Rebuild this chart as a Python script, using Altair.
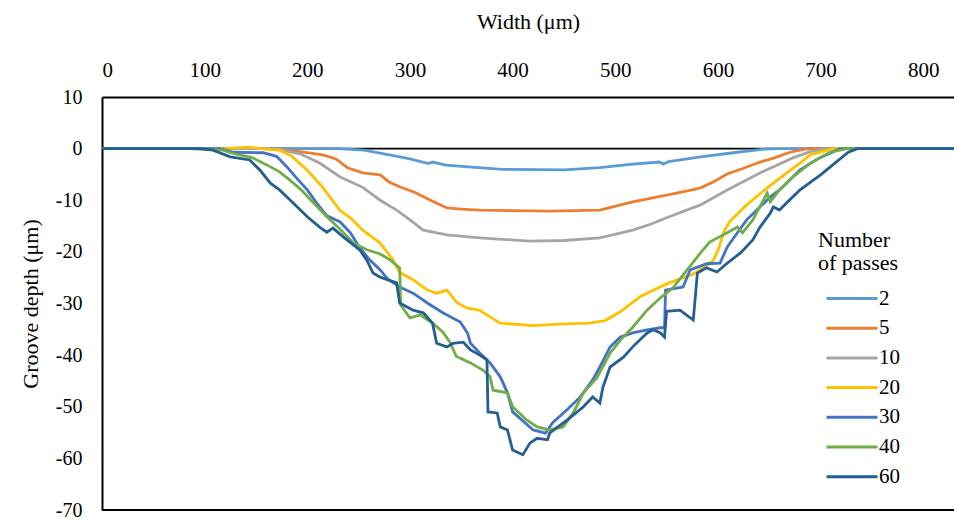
import altair as alt
import pandas as pd

# ---- data (width in µm, groove depth in µm) ----
passes = ["2", "5", "10", "20", "30", "40", "60"]
colors = ["#5B9BD5", "#ED7D31", "#A5A5A5", "#FFC000", "#4472C4", "#70AD47", "#255E91"]

p2_x = [0, 230, 255, 280, 300, 318, 322, 335, 360, 390, 450, 485, 517, 543, 547, 552, 583, 615, 645, 660, 830]
p2_y = [0, 0, -0.3, -1.2, -2.0, -2.9, -2.6, -3.2, -3.6, -4.0, -4.1, -3.7, -3.0, -2.6, -3.0, -2.5, -1.6, -0.8, -0.1, 0, 0]

p5_x = [0, 155, 175, 193, 215, 228, 239, 254, 271, 280, 290, 305, 320, 336, 350, 368, 400, 436, 485, 517, 550, 575,
        583, 595, 609, 625, 641, 655, 670, 685, 695, 830]
p5_y = [0, 0, -0.2, -0.6, -1.2, -2.0, -3.7, -4.7, -5.1, -6.5, -7.4, -8.5, -10.0, -11.5, -11.7, -11.9, -12.0, -12.1,
        -11.9, -10.3, -9.0, -8.0, -7.6, -6.5, -4.9, -3.8, -2.6, -1.8, -0.7, -0.1, 0, 0]

p10_x = [0, 160, 175, 193, 212, 232, 254, 271, 287, 300, 313, 336, 368, 417, 450, 485, 517, 535, 550, 583, 609, 641,
         673, 690, 706, 830]
p10_y = [0, 0, -0.3, -1.0, -2.8, -5.5, -7.5, -10.0, -11.9, -13.8, -15.8, -16.7, -17.3, -17.9, -17.8, -17.3, -15.8,
         -14.6, -13.4, -10.9, -8.0, -4.7, -1.8, -0.6, 0, 0]

p20_x = [0, 120, 135, 144, 155, 173, 185, 200, 215, 232, 242, 254, 271, 283, 290, 303, 317, 326, 336, 346, 356, 368,
         378, 388, 420, 446, 475, 490, 505, 524, 550, 576, 595, 600, 606, 612, 628, 648, 667, 680, 690, 712, 830]
p20_y = [0, 0, 0.2, 0.3, 0, -0.3, -1.5, -4.2, -7.5, -12.0, -13.4, -15.8, -18.3, -21.4, -24.0, -25.4, -27.4, -28.0,
         -27.4, -29.9, -30.9, -31.3, -32.6, -33.8, -34.3, -34.0, -33.8, -33.3, -31.6, -28.7, -26.2, -24.3, -21.8,
         -19.8, -16.0, -14.0, -10.9, -7.6, -4.7, -2.8, -1.2, 0, 0]

p30_x = [0, 115, 128, 157, 170, 180, 190, 200, 209, 219, 232, 242, 251, 261, 271, 278, 290, 303, 317, 332, 349, 356,
         359, 368, 378, 388, 395, 400, 407, 420, 432, 439, 453, 466, 478, 485, 495, 505, 517, 531, 544, 548, 549, 566,
         573, 589, 602, 609, 619, 628, 641, 651, 660, 673, 680, 699, 719, 830]
p30_y = [0, 0, -0.7, -0.8, -1.5, -3.5, -5.8, -8.0, -10.5, -13.0, -14.2, -16.3, -19.2, -21.6, -23.5, -25.2, -26.8,
         -28.0, -29.9, -31.8, -33.6, -35.7, -37.7, -39.6, -41.5, -44.2, -47.3, -51.0, -52.2, -54.5, -55.1, -53.1,
         -50.6, -48.1, -44.8, -42.3, -38.4, -36.5, -35.7, -35.1, -34.7, -34.7, -27.4, -26.8, -23.5, -22.3, -22.2,
         -19.1, -16.3, -13.8, -11.3, -9.4, -8.0, -5.5, -4.1, -1.8, 0, 0]

p40_x = [0, 83, 118, 125, 147, 161, 173, 183, 193, 206, 219, 232, 245, 258, 271, 281, 290, 291, 300, 310, 322, 332,
         339, 345, 359, 371, 378, 381, 395, 400, 414, 424, 436, 449, 459, 469, 482, 495, 505, 517, 531, 544, 556, 570,
         583, 592, 609, 619, 624, 634, 648, 651, 660, 673, 690, 709, 726, 830]
p40_y = [0, 0, -0.3, -0.8, -1.8, -3.2, -4.5, -6.1, -7.8, -10.5, -13.2, -15.6, -18.3, -19.6, -20.4, -21.6, -23.1,
         -30.3, -32.8, -32.2, -33.8, -35.5, -37.5, -40.2, -41.5, -42.9, -44.2, -46.8, -47.3, -50.0, -52.6, -53.9,
         -54.5, -53.9, -51.2, -47.3, -44.4, -39.6, -37.1, -34.6, -31.3, -28.9, -27.0, -23.5, -20.2, -18.1, -16.3,
         -15.2, -16.3, -13.8, -8.6, -10.3, -8.0, -5.5, -2.8, -0.7, 0, 0]

p60_x = [0, 95, 108, 125, 144, 154, 164, 173, 186, 200, 212, 219, 225, 235, 251, 258, 264, 271, 278, 287, 290, 303,
         313, 322, 326, 336, 342, 352, 359, 368, 375, 376, 385, 388, 395, 400, 410, 417, 424, 434, 436, 453, 469, 478,
         485, 488, 495, 508, 517, 531, 537, 544, 548, 550, 563, 576, 580, 589, 599, 609, 622, 634, 641, 651, 654, 660,
         667, 680, 700, 714, 727, 736, 830]
p60_y = [0, 0, -0.3, -1.6, -2.2, -4.2, -6.7, -8.0, -10.5, -13.2, -15.2, -16.2, -15.4, -17.1, -19.6, -21.6, -24.1,
         -24.9, -25.4, -26.0, -29.9, -31.3, -31.8, -33.8, -37.7, -38.4, -37.7, -37.5, -39.0, -40.0, -40.9, -51.0,
         -51.2, -53.9, -54.5, -58.4, -59.3, -57.0, -56.1, -56.4, -55.1, -52.6, -50.0, -48.1, -49.3, -46.2, -42.3,
         -40.4, -38.4, -35.7, -35.1, -35.7, -36.5, -31.5, -31.3, -33.2, -24.1, -23.1, -23.9, -22.2, -20.2, -17.7,
         -15.2, -12.5, -11.3, -11.9, -10.5, -8.0, -5.1, -2.8, -0.7, 0, 0]

x_ticks = [0, 100, 200, 300, 400, 500, 600, 700, 800]
y_ticks = [-70, -60, -50, -40, -30, -20, -10, 0, 10]
frame_lines = [0, -70]

series = {
    "2": (p2_x, p2_y), "5": (p5_x, p5_y), "10": (p10_x, p10_y), "20": (p20_x, p20_y),
    "30": (p30_x, p30_y), "40": (p40_x, p40_y), "60": (p60_x, p60_y),
}
rows = []
for k, name in enumerate(passes):
    xs, ys = series[name]
    for i, (xv, yv) in enumerate(zip(xs, ys)):
        rows.append({"passes": name, "k": k, "i": i, "width": xv, "depth": yv})
df = pd.DataFrame(rows)

FONT = "Liberation Serif"

xscale = alt.Scale(domain=[0, 830], nice=False, zero=False)
yscale = alt.Scale(domain=[-70, 10], nice=False)

x_axis = alt.Axis(orient="top", title="Width (μm)", values=x_ticks, ticks=False, grid=False,
                  domainColor="black", domainWidth=2, labelPadding=17, titlePadding=26,
                  labelFont=FONT, titleFont=FONT, labelFontSize=21, titleFontSize=22)
y_axis = alt.Axis(title="Groove depth (μm)", values=y_ticks, ticks=False, grid=False,
                  domainColor="black", domainWidth=2, labelPadding=20, titlePadding=13,
                  labelExpr="datum.value < 0 ? '-' + abs(datum.value) : '' + datum.value",
                  labelFont=FONT, titleFont=FONT, labelFontSize=20, titleFontSize=22)

rules = alt.Chart(pd.DataFrame({"y": frame_lines})).mark_rule(color="black", strokeWidth=1.8).encode(
    y=alt.Y("y:Q", scale=yscale, axis=y_axis)
)

lines = alt.Chart(df).mark_line(strokeWidth=2.8, clip=True).encode(
    x=alt.X("width:Q", scale=xscale, axis=x_axis),
    y=alt.Y("depth:Q", scale=yscale, axis=y_axis),
    color=alt.Color("passes:N", sort=passes,
                    scale=alt.Scale(domain=passes, range=colors),
                    legend=alt.Legend(title=["Number", "of passes"], orient="none",
                                      legendX=716, legendY=133,
                                      titleFont=FONT, labelFont=FONT,
                                      titleFontSize=22, labelFontSize=21)),
    order=alt.Order("i:Q"),
    detail="k:N",
)

chart = alt.layer(rules, lines).properties(
    width=852, height=413,
    autosize=alt.AutoSizeParams(type="none"),
    padding={"left": 102, "top": 97, "right": 0, "bottom": 9},
).configure_view(stroke=None).configure_axis(
    labelColor="black", titleColor="black", titleFontWeight="normal",
).configure_legend(
    titleFontWeight="normal", titleColor="black", labelColor="black",
    titleLineHeight=23, titlePadding=13,
    symbolType="stroke", symbolSize=2601, symbolStrokeWidth=3,
    symbolOffset=7, labelOffset=0, clipHeight=21, rowPadding=7.7,
)

chart.save("out.html", embed_options={"renderer": "svg", "actions": False})
